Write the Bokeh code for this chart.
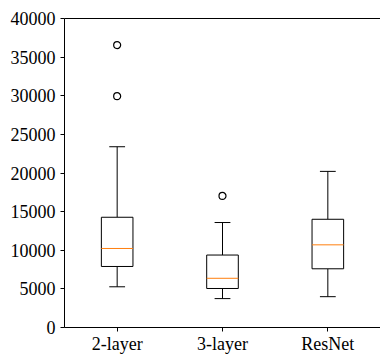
from bokeh.plotting import figure
from bokeh.models import Range1d, FixedTicker, LinearAxis, ColumnDataSource
from bokeh.embed import file_html
from bokeh.resources import INLINE

categories = ["2-layer", "3-layer", "ResNet"]
q1 = [7900, 5050, 7600]
median = [10230, 6370, 10700]
q3 = [14270, 9380, 14010]
whisker_low = [5270, 3740, 3990]
whisker_high = [23400, 13590, 20210]
outlier_cat = ["2-layer", "2-layer", "3-layer"]
outlier_val = [36560, 29940, 17030]
y_ticks = [0, 5000, 10000, 15000, 20000, 25000, 30000, 35000, 40000]

FONT = "Liberation Serif"
BOX_W = 0.3
CAP_W = 0.15

pos = [i + 1 for i in range(len(categories))]
src = ColumnDataSource(dict(
    x=pos, q1=q1, q3=q3, med=median, lo=whisker_low, hi=whisker_high,
    bl=[x - BOX_W / 2 for x in pos], br=[x + BOX_W / 2 for x in pos],
    cl=[x - CAP_W / 2 for x in pos], cr=[x + CAP_W / 2 for x in pos],
))
out_src = ColumnDataSource(dict(
    x=[categories.index(c) + 1 for c in outlier_cat], y=outlier_val))

p = figure(width=380, height=356, output_backend="svg", toolbar_location=None,
           x_range=Range1d(0.5, 3.5), y_range=Range1d(0, 40000),
           min_border_left=64, min_border_right=0, min_border_top=18, min_border_bottom=0)
p.outline_line_color = None
p.xgrid.visible = False
p.ygrid.visible = False
p.background_fill_color = "white"
p.border_fill_color = "white"

# whiskers
p.segment(x0="x", y0="q3", x1="x", y1="hi", source=src, line_color="black", line_width=1)
p.segment(x0="x", y0="lo", x1="x", y1="q1", source=src, line_color="black", line_width=1)
# caps
p.segment(x0="cl", y0="hi", x1="cr", y1="hi", source=src, line_color="black", line_width=1)
p.segment(x0="cl", y0="lo", x1="cr", y1="lo", source=src, line_color="black", line_width=1)
# boxes
p.quad(left="bl", right="br", bottom="q1", top="q3", source=src,
       fill_color="white", line_color="black", line_width=1)
# medians
p.segment(x0="bl", y0="med", x1="br", y1="med", source=src, line_color="#ff7f0e", line_width=1)
# outliers
p.scatter(x="x", y="y", source=out_src, marker="circle", size=7,
          fill_color=None, line_color="black", line_width=1.2)

for ax in (p.xaxis[0], p.yaxis[0]):
    ax.axis_line_color = "black"
    ax.axis_line_width = 1
    ax.major_tick_line_color = "black"
    ax.major_tick_in = 0
    ax.major_tick_out = 4
    ax.minor_tick_line_color = None
    ax.major_label_text_font = FONT
    ax.major_label_text_font_size = "18px"
    ax.major_label_text_color = "black"

p.yaxis.major_label_standoff = 5
p.xaxis.major_label_standoff = 2
p.xaxis.major_label_text_line_height = 0.8

p.xaxis.ticker = FixedTicker(ticks=pos)
p.xaxis.major_label_overrides = {x: c for x, c in zip(pos, categories)}
p.yaxis.ticker = FixedTicker(ticks=y_ticks)

top = LinearAxis(axis_line_color="black", major_tick_line_color=None, minor_tick_line_color=None,
                 major_label_text_font_size="0px", major_tick_out=0, major_tick_in=0,
                 major_label_standoff=0, ticker=FixedTicker(ticks=[]))
p.add_layout(top, "above")

html = file_html(p, INLINE)
open("out.html", "w").write(html)
